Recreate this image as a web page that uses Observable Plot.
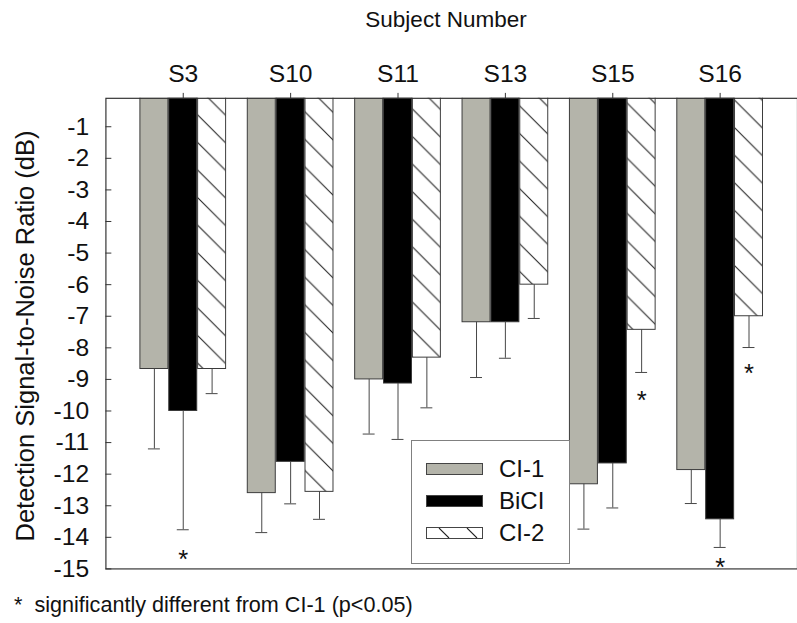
<!DOCTYPE html>
<html><head><meta charset="utf-8">
<script src="https://cdn.jsdelivr.net/npm/d3@7"></script>
<script src="https://cdn.jsdelivr.net/npm/@observablehq/plot@0.6"></script>
<style>
html,body{margin:0;padding:0;background:#fff;overflow:hidden;}
#wrap{position:relative;width:797px;height:623px;overflow:hidden;font-family:"Liberation Sans",Arial,sans-serif;color:#111;font-size:22px;}
#wrap svg{position:absolute;left:0;top:0;}
.lbl{position:absolute;white-space:pre;line-height:26px;}
#legend{position:absolute;left:411px;top:440px;width:157px;height:122px;border:1px solid #808080;background:#fff;}
#legend .row{position:absolute;left:14px;height:13px;}
#legend .sw{position:absolute;left:0;top:0;width:57px;height:12px;box-sizing:border-box;border:1px solid #444;}
#legend .tx{position:absolute;left:73px;top:-6px;line-height:24px;font-size:24px;white-space:nowrap;}
</style></head><body><div id="wrap"></div>
<script>
// ---- data ----
const subjects = ["S3", "S10", "S11", "S13", "S15", "S16"];
const series = ["CI-1", "BiCI", "CI-2"];
const ci1    = [-8.67, -12.60, -9.00, -7.19, -12.32, -11.87];
const ci1Err = [-11.20, -13.85, -10.73, -8.94, -13.74, -12.93];
const bici    = [-10.00, -11.61, -9.13, -7.19, -11.66, -13.43];
const biciErr = [-13.76, -12.94, -10.90, -8.33, -13.07, -14.32];
const ci2    = [-8.67, -12.56, -8.31, -6.00, -7.43, -7.00];
const ci2Err = [-9.45, -13.43, -9.90, -7.07, -8.78, -7.99];
const starSubject = ["S3", "S15", "S16", "S16"];
const starSeries  = ["BiCI", "CI-2", "CI-2", "BiCI"];
const starY       = [-14.37, -9.32, -8.49, -14.63];
const yTicks = [-1, -2, -3, -4, -5, -6, -7, -8, -9, -10, -11, -12, -13, -14, -15];
const footnote = "*  significantly different from CI-1 (p<0.05)";
const xTitle = "Subject Number";
const yTitle = "Detection Signal-to-Noise Ratio (dB)";

// ---- layout ----
const W = 809, H = 590;
const mL = 107, mT = 99.3, mB = H - 577, mR = 0;
const padIn = 0.2, padOut = 0.295;
const step = (W - mL - mR) / (subjects.length - padIn + 2 * padOut);
const bw = step * (1 - padIn);
const third = bw / 3;
const capHalf = 6.5;
const frameW = W - mL - mR;

const vals = {"CI-1": ci1, "BiCI": bici, "CI-2": ci2};
const errs = {"CI-1": ci1Err, "BiCI": biciErr, "CI-2": ci2Err};
const rows = series.flatMap(k => subjects.map((s, i) => ({subject: s, series: k, value: vals[k][i], err: errs[k][i]})));
const stars = starSubject.map((s, i) => ({subject: s, series: starSeries[i], y: starY[i]}));
const offsets = {"CI-1": -third, "BiCI": 0, "CI-2": third};
const insets = {"CI-1": [0, 2 * third], "BiCI": [third, third], "CI-2": [2 * third, 0]};
const fills = {"CI-1": "#b4b4aa", "BiCI": "#000", "CI-2": "url(#hatch)"};

const marks = [];
for (const k of series) {
  const d = rows.filter(r => r.series === k);
  marks.push(Plot.barY(d, {x: "subject", y1: 0, y2: "value", fill: fills[k], stroke: "#3a3a3a", strokeWidth: 1,
    insetLeft: insets[k][0], insetRight: insets[k][1], clip: true}));
}
for (const k of series) {
  const d = rows.filter(r => r.series === k);
  marks.push(Plot.ruleX(d, {x: "subject", y1: "value", y2: "err", dx: offsets[k], stroke: "#444", strokeWidth: 1}));
  marks.push(Plot.tickY(d, {x: "subject", y: "err", dx: offsets[k], insetLeft: bw / 2 - capHalf, insetRight: bw / 2 - capHalf, stroke: "#444", strokeWidth: 1}));
  const sd = stars.filter(r => r.series === k);
  if (sd.length) marks.push(Plot.text(sd, {x: "subject", y: "y", dx: offsets[k], dy: 11, text: () => "*", fontSize: 26, fill: "#111"}));
}
marks.push(Plot.tickY(yTicks, {y: d => d, insetRight: frameW - 6, stroke: "#333"}));
marks.push(Plot.axisX({anchor: "top", tickSize: 6, tickPadding: 11, label: null, stroke: "#333", fontSize: 25}));
marks.push(Plot.axisY({ticks: yTicks, tickSize: 0, tickPadding: 17, label: null, fontSize: 25, tickFormat: d => String(d)}));
marks.push(Plot.frame({stroke: "#333", strokeWidth: 1.2}));

const chart = Plot.plot({
  width: W, height: H,
  marginLeft: mL, marginTop: mT, marginBottom: mB, marginRight: mR,
  style: {fontFamily: "Liberation Sans, Arial, sans-serif", fontSize: "25px", color: "#111", background: "#fff"},
  x: {type: "band", domain: subjects, paddingInner: padIn, paddingOuter: padOut, align: 0.5},
  y: {domain: [-15, -0.1]},
  marks
});

const svg = d3.select(chart);
const defs = svg.insert("defs", ":first-child");
const p = defs.append("pattern").attr("id", "hatch").attr("patternUnits", "userSpaceOnUse").attr("width", 28).attr("height", 28);
p.append("rect").attr("width", 28).attr("height", 28).attr("fill", "#fff");
p.append("path").attr("d", "M-2,-2L30,30M-2,26L2,30M26,-2L30,2").attr("stroke", "#222").attr("stroke-width", 1.1).attr("fill", "none");

const wrap = document.getElementById("wrap");
wrap.appendChild(chart);

function addLabel(text, css) {
  const el = document.createElement("div");
  el.className = "lbl";
  el.textContent = text;
  Object.assign(el.style, css);
  wrap.appendChild(el);
  return el;
}
addLabel(xTitle, {left: "446px", top: "7px", fontSize: "22.5px", transform: "translateX(-50%)"});
addLabel(yTitle, {left: "25px", top: "336px", fontSize: "25.5px", transform: "translate(-50%,-50%) rotate(-90deg)"});
addLabel(footnote, {left: "14px", top: "592px", fontSize: "21.6px"});

// legend
const legend = document.createElement("div");
legend.id = "legend";
const swTop = [22, 54, 86];
series.forEach((k, i) => {
  const row = document.createElement("div");
  row.className = "row";
  row.style.top = swTop[i] + "px";
  const sw = document.createElement("div");
  sw.className = "sw";
  if (k === "CI-2") {
    sw.style.background = "#fff";
    sw.innerHTML = '<svg width="55" height="10" style="position:absolute;left:0;top:0"><path d="M12,0L22,10M40,0L50,10" stroke="#222" stroke-width="1.1" fill="none"/></svg>';
  } else {
    sw.style.background = fills[k];
  }
  const tx = document.createElement("div");
  tx.className = "tx";
  tx.textContent = k;
  row.appendChild(sw);
  row.appendChild(tx);
  legend.appendChild(row);
});
wrap.appendChild(legend);
</script>
</body></html>
